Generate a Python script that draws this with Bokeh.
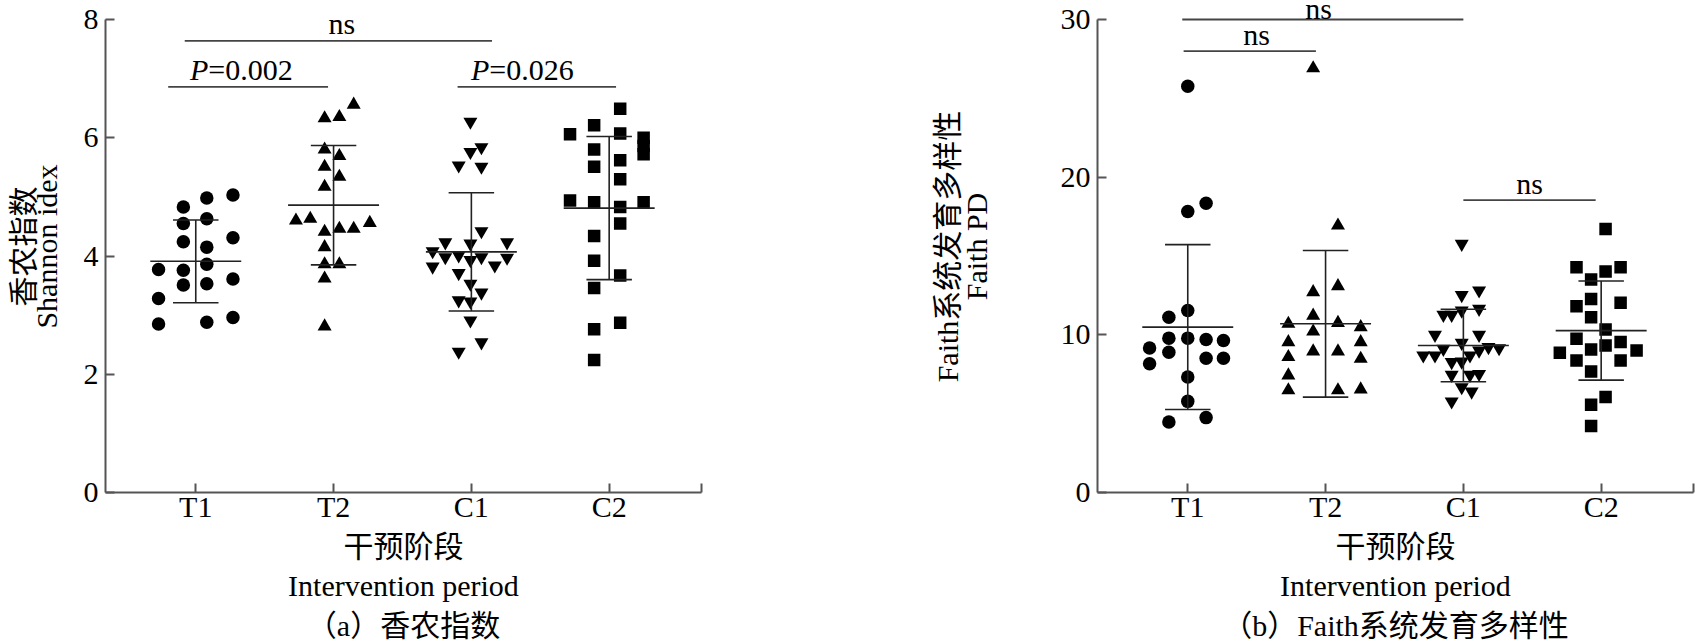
import numpy as np
from bokeh.plotting import figure
from bokeh.models import Range1d, FixedTicker, LinearAxis
from bokeh.layouts import row
from bokeh.embed import file_html
from bokeh.resources import INLINE
from bokeh.core.properties import value

# ---------------- data ----------------
groups = ["T1", "T2", "C1", "C2"]
group_pos = [1, 2, 3, 4]

# (a) Shannon index
sh_T1 = [4.83, 4.98, 5.03, 4.55, 4.63, 4.24, 4.31, 4.15, 3.77, 3.76, 3.86, 3.61, 3.51, 3.53, 3.28, 2.85, 2.88, 2.96]
sh_T1_jit = [-0.09, 0.08, 0.27, -0.09, 0.08, -0.09, 0.27, 0.08, -0.27, -0.09, 0.08, 0.27, -0.09, 0.08, -0.27, -0.27, 0.08, 0.27]
sh_T2 = [6.56, 6.33, 6.35, 5.80, 5.69, 5.51, 5.34, 5.17, 4.60, 4.63, 4.56, 4.41, 4.46, 4.46, 4.15, 3.86, 3.86, 3.62, 2.81]
sh_T2_jit = [0.146, -0.065, 0.042, -0.065, 0.042, -0.065, 0.042, -0.065, -0.273, -0.169, 0.263, -0.065, 0.042, 0.146, -0.065, -0.065, 0.042, -0.065, -0.065]
sh_C1 = [6.27, 5.84, 5.76, 5.53, 5.51, 4.42, 4.23, 4.21, 4.23, 4.08, 3.98, 4.01, 3.93, 3.98, 3.97, 3.82, 3.84, 3.71, 3.53, 3.38, 3.25, 3.23, 2.91, 2.54, 2.38]
sh_C1_jit = [-0.007, 0.073, -0.007, -0.092, 0.073, 0.073, -0.189, -0.007, 0.259, -0.281, -0.189, -0.092, -0.007, 0.073, 0.259, -0.281, 0.17, -0.092, -0.007, 0.073, -0.092, -0.007, -0.007, 0.073, -0.092]
sh_C2 = [6.49, 6.21, 6.06, 6.07, 6.00, 5.86, 5.72, 5.80, 5.62, 5.51, 5.30, 4.94, 4.91, 4.83, 4.91, 4.55, 4.34, 3.92, 3.67, 3.46, 2.87, 2.76, 2.24]
sh_C2_jit = [0.08, -0.109, -0.284, 0.08, 0.25, 0.25, 0.25, -0.109, 0.08, -0.109, 0.08, -0.284, -0.109, 0.08, 0.25, 0.08, -0.109, -0.109, 0.08, -0.109, 0.08, -0.109, -0.109]
sh_mean = [3.91, 4.86, 4.07, 4.81]
sh_sd = [0.70, 1.01, 1.00, 1.21]
sh_yticks = [0, 2, 4, 6, 8]
sh_br_x0 = [0.92, 0.80, 2.90]
sh_br_x1 = [3.15, 1.96, 4.05]
sh_br_y = [7.64, 6.86, 6.86]
sh_br_tx = [2.06, 1.33, 3.37]
sh_br_italic = ["", "P", "P"]
sh_br_text = ["ns", "=0.002", "=0.026"]
sh_ylabel_cn = "香农指数"
sh_ylabel_en = "Shannon idex"
sh_xlabel = "干预阶段\nIntervention period\n（a）香农指数"

# (b) Faith PD
fp_T1 = [25.77, 17.82, 18.35, 11.54, 11.12, 9.16, 9.79, 9.79, 9.70, 9.64, 8.90, 8.52, 8.52, 8.16, 7.32, 5.78, 4.47, 4.75]
fp_T1_jit = [0.0, 0.0, 0.133, 0.0, -0.137, -0.277, -0.137, 0.0, 0.133, 0.259, -0.137, 0.133, 0.259, -0.277, 0.0, 0.0, -0.137, 0.133]
fp_T2 = [26.91, 16.93, 12.71, 13.09, 11.22, 10.70, 10.76, 10.49, 10.21, 9.54, 9.54, 8.95, 8.95, 8.59, 8.48, 7.43, 6.48, 6.48, 6.54]
fp_T2_jit = [-0.09, 0.09, -0.09, 0.09, -0.09, -0.27, 0.09, 0.255, -0.09, -0.27, 0.255, -0.09, 0.09, -0.27, 0.255, -0.27, -0.27, 0.09, 0.255]
fp_C1 = [15.77, 12.52, 12.81, 11.27, 11.27, 11.54, 11.65, 10.0, 10.0, 9.49, 9.11, 8.69, 8.69, 9.0, 9.22, 9.15, 8.27, 8.3, 8.69, 7.46, 7.46, 7.52, 6.68, 6.40, 5.77]
fp_C1_jit = [-0.012, -0.012, 0.114, -0.145, -0.085, -0.012, 0.114, -0.206, 0.114, -0.012, -0.145, -0.291, -0.206, 0.114, 0.182, 0.259, -0.085, -0.012, 0.048, -0.085, 0.048, 0.114, -0.012, 0.06, -0.085]
fp_C2 = [16.72, 14.29, 14.01, 14.29, 13.51, 12.28, 11.82, 12.03, 11.12, 10.34, 9.75, 9.54, 8.86, 9.07, 9.32, 9.0, 8.37, 8.37, 7.67, 6.05, 5.56, 4.21]
fp_C2_jit = [0.032, -0.179, 0.032, 0.141, -0.073, -0.073, -0.179, 0.141, -0.073, 0.032, -0.179, 0.141, -0.30, -0.073, 0.032, 0.257, -0.179, 0.141, -0.073, 0.032, -0.073, -0.073]
fp_mean = [10.49, 10.70, 9.32, 10.27]
fp_sd = [5.23, 4.65, 2.30, 3.14]
fp_yticks = [0, 10, 20, 30]
fp_br_x0 = [0.96, 0.97, 3.00]
fp_br_x1 = [3.00, 1.93, 3.96]
fp_br_y = [30.0, 28.0, 18.55]
fp_br_tx = [1.95, 1.50, 3.48]
fp_br_italic = ["", "", ""]
fp_br_text = ["ns", "ns", "ns"]
fp_ylabel_cn = "Faith系统发育多样性"
fp_ylabel_en = "Faith PD"
fp_xlabel = "干预阶段\nIntervention period\n（b）Faith系统发育多样性"

# ---------------- styling / layout ----------------
FONT = "Liberation Serif, Noto Sans CJK SC"
markers = ["circle", "triangle", "inverted_triangle", "square"]
msizes = [13.5, 14, 14, 12.5]
AX_COL = "#555555"
FS = "30px"
FRAME_W = 596
FRAME_H = 492      # y = 0 sits on the frame bottom
TOP_PAD = 19       # pixels between frame top and the highest tick
TEXT_LIFT = -17    # bracket label lift above its line (screen px)


def style_label(ax):
    ax.axis_label_text_font = FONT
    ax.axis_label_text_font_size = FS
    ax.axis_label_text_font_style = "normal"
    ax.axis_label_text_color = "black"


def panel(vals, jits, means, sds, yticks, ylab_cn, ylab_en, xlabel,
          br_x0, br_x1, br_y, br_tx, br_it, br_txt,
          border_left, border_right, en_standoff, cn_standoff):
    ymax = yticks[-1]
    y_top = ymax + TOP_PAD * ymax / (FRAME_H - TOP_PAD)
    p = figure(frame_width=FRAME_W, frame_height=FRAME_H,
               x_range=Range1d(0.345, 4.67), y_range=Range1d(0, y_top),
               output_backend="svg", toolbar_location=None,
               min_border_left=border_left, min_border_right=border_right,
               min_border_top=0, min_border_bottom=120)
    p.xgrid.visible = False
    p.ygrid.visible = False
    p.outline_line_color = None
    p.background_fill_color = "white"
    p.border_fill_color = "white"

    for ax in (p.xaxis[0], p.yaxis[0]):
        ax.axis_line_color = AX_COL
        ax.axis_line_width = 2
        ax.major_tick_line_color = AX_COL
        ax.major_tick_line_width = 2
        ax.major_tick_in = 9
        ax.major_tick_out = 0
        ax.minor_tick_line_color = None
        ax.major_label_text_font = FONT
        ax.major_label_text_font_size = FS
        ax.major_label_text_color = "black"
        style_label(ax)

    xa = p.xaxis[0]
    end_tick = 4.67
    xa.ticker = FixedTicker(ticks=group_pos + [end_tick])
    ov = {pos: g for pos, g in zip(group_pos, groups)}
    ov[end_tick] = ""
    xa.major_label_overrides = ov
    xa.major_label_standoff = -3
    xa.axis_label = xlabel
    xa.axis_label_standoff = 4

    ya = p.yaxis[0]
    ya.ticker = FixedTicker(ticks=yticks)
    ya.bounds = (yticks[0], yticks[-1])
    ya.major_label_standoff = 7
    ya.axis_label = ylab_en
    ya.axis_label_standoff = en_standoff

    # second (outer) title line of the y axis
    ya2 = LinearAxis(ticker=FixedTicker(ticks=[]), bounds=(yticks[0], yticks[-1]),
                     axis_line_color=None, major_tick_line_color=None,
                     minor_tick_line_color=None, major_tick_in=0, major_tick_out=0,
                     minor_tick_in=0, minor_tick_out=0,
                     axis_label=ylab_cn, axis_label_standoff=cn_standoff)
    style_label(ya2)
    p.add_layout(ya2, "left")

    # points
    for i in range(4):
        xs = np.array(jits[i]) + group_pos[i]
        p.scatter(x=xs, y=vals[i], marker=markers[i], size=msizes[i],
                  fill_color="black", line_color=None)

    # mean +/- SD
    gp = np.array(group_pos, dtype=float)
    m = np.array(means)
    s = np.array(sds)
    lc = "#222222"
    p.segment(x0=gp - 0.33, y0=m, x1=gp + 0.33, y1=m, line_color=lc, line_width=1.6)
    p.segment(x0=gp, y0=m - s, x1=gp, y1=m + s, line_color=lc, line_width=1.6)
    p.segment(x0=gp - 0.165, y0=m + s, x1=gp + 0.165, y1=m + s, line_color=lc, line_width=1.6)
    p.segment(x0=gp - 0.165, y0=m - s, x1=gp + 0.165, y1=m - s, line_color=lc, line_width=1.6)

    # significance brackets
    p.segment(x0=br_x0, y0=br_y, x1=br_x1, y1=br_y, line_color="#444444", line_width=1.8)
    for tx, ty, it, tt in zip(br_tx, br_y, br_it, br_txt):
        # keep a label that sits on the top edge inside the picture
        lift = TEXT_LIFT if ty < ymax * 0.99 else TEXT_LIFT + 6
        common = dict(text_baseline="alphabetic", y_offset=lift,
                      text_font=value("Liberation Serif"), text_font_size=FS,
                      text_color="black")
        if it:
            p.text(x=[tx], y=[ty], text=[it], text_align="right", x_offset=-33,
                   text_font_style="italic", **common)
            p.text(x=[tx], y=[ty], text=[tt], text_align="left", x_offset=-33, **common)
        else:
            p.text(x=[tx], y=[ty], text=[tt], text_align="center", **common)
    return p


p1 = panel([sh_T1, sh_T2, sh_C1, sh_C2], [sh_T1_jit, sh_T2_jit, sh_C1_jit, sh_C2_jit],
           sh_mean, sh_sd, sh_yticks, sh_ylabel_cn, sh_ylabel_en, sh_xlabel,
           sh_br_x0, sh_br_x1, sh_br_y, sh_br_tx, sh_br_italic, sh_br_text,
           105, 20, 18, -13)
p2 = panel([fp_T1, fp_T2, fp_C1, fp_C2], [fp_T1_jit, fp_T2_jit, fp_C1_jit, fp_C2_jit],
           fp_mean, fp_sd, fp_yticks, fp_ylabel_cn, fp_ylabel_en, fp_xlabel,
           fp_br_x0, fp_br_x1, fp_br_y, fp_br_tx, fp_br_italic, fp_br_text,
           376, 2, 65, -7)

layout = row(p1, p2)
open("out.html", "w").write(file_html(layout, INLINE))
